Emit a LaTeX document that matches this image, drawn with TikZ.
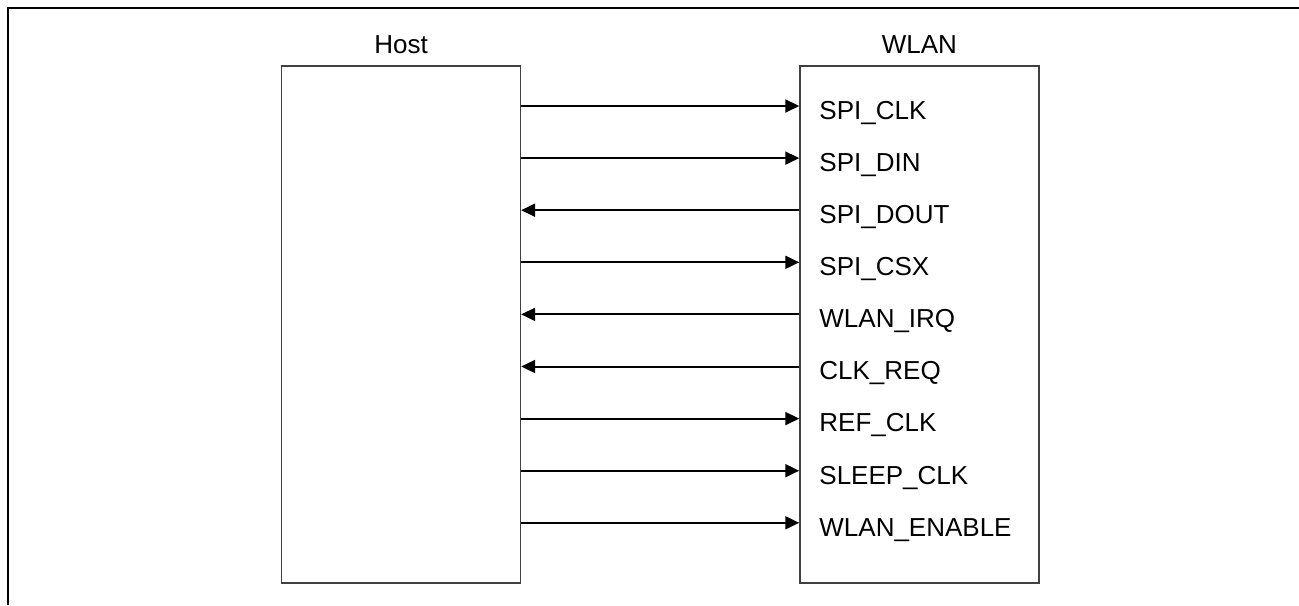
\documentclass[tikz,border=0pt]{standalone}
\usepackage{fontspec}
\setmainfont{Liberation Sans}
\usetikzlibrary{arrows.meta,positioning}

\begin{document}
\begin{tikzpicture}[
      x=0.5pt, y=-0.5pt,
      frame_line/.style={
        line width=1pt,
        draw=black},
      block_box/.style={
        draw=black!75,
        line width=0.65pt,
        inner sep=0pt,
        minimum width=119.5pt,
        minimum height=258.5pt},
      block_title/.style={
        anchor=base,
        inner sep=0pt,
        font=\fontsize{13}{15}\selectfont},
      pin_label/.style={
        anchor=base west,
        inner sep=0pt,
        font=\fontsize{13}{15}\selectfont},
      arrow_sig/.style={
        -{Triangle[length=7pt,width=6.5pt]},
        line width=1pt,
        }
]
      \useasboundingbox (0,0) rectangle (1299,605);
      %frame
      \draw[frame_line] (7.7,605) -- (7.7,7.7) -- (1299,7.7);

      %blocks
      \node[block_box] (host) at (401,324.5) {};
      \node[block_box] (wlan) at (919.4,324.5) {};
      \node[block_title] (host_name) at (401,53) {Host};
      \node[block_title] (wlan_name) at (919.4,53) {WLAN};

    \foreach \name/\s/\e [count=\i] in {% pin/start/end
      SPI\_CLK/h/w,
      SPI\_DIN/h/w,
      SPI\_DOUT/w/h,
      SPI\_CSX/h/w,
      WLAN\_IRQ/w/h,
      CLK\_REQ/w/h,
      REF\_CLK/h/w,
      SLEEP\_CLK/h/w,
      WLAN\_ENABLE/h/w}
    {
      \pgfmathsetmacro\rowy{106+52.1*(\i-1)}
      \coordinate (h\i) at (host.east |- 0,\rowy);
      \coordinate (w\i) at (wlan.west |- 0,\rowy);
      \node[pin_label] (pin\i) at (819,\rowy+13.3) {\name};
      \draw [arrow_sig] (\s\i) -- (\e\i);
    }

\end{tikzpicture}
\end{document}
